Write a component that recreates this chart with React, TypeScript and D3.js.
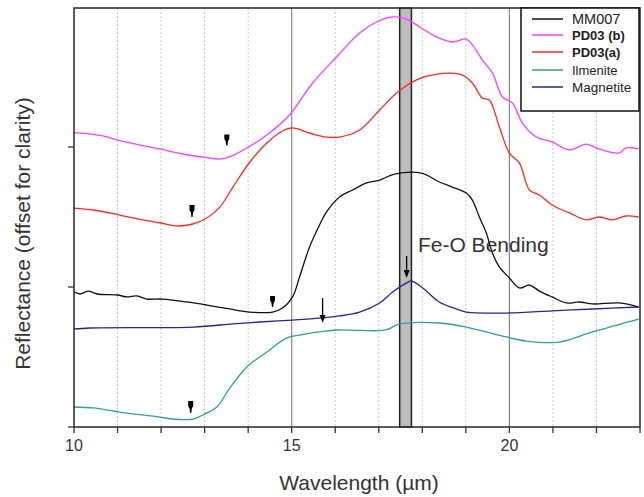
import * as d3 from 'd3';

// wavelength (µm) and offset reflectance (arbitrary units)
const mm007Wl = [10.0, 10.14, 10.32, 10.53, 10.99, 11.22, 11.44, 11.67, 12.04, 12.59, 13.05, 13.58, 14.04, 14.56, 14.79, 15.02, 15.18, 15.41, 15.64, 15.8, 16.1, 16.4, 16.72, 17.02, 17.36, 17.98, 18.39, 18.69, 19.01, 19.15, 19.31, 19.47, 19.61, 19.77, 20.0, 20.23, 20.46, 20.69, 20.98, 21.31, 21.61, 21.91, 22.52, 22.97];
const mm007R = [0.966, 0.95, 0.971, 0.95, 0.943, 0.929, 0.936, 0.914, 0.914, 0.893, 0.871, 0.843, 0.821, 0.821, 0.85, 0.929, 1.071, 1.286, 1.443, 1.536, 1.643, 1.693, 1.743, 1.764, 1.807, 1.814, 1.75, 1.714, 1.671, 1.621, 1.5, 1.386, 1.243, 1.143, 1.064, 0.993, 1.014, 0.971, 0.929, 0.886, 0.893, 0.879, 0.886, 0.857];

const pd03bWl = [10.0, 10.66, 11.05, 11.51, 11.97, 12.5, 13.05, 13.35, 13.58, 13.97, 14.43, 14.95, 15.48, 16.03, 16.56, 16.95, 17.32, 17.64, 17.94, 18.33, 18.69, 19.01, 19.15, 19.38, 19.61, 19.84, 20.07, 20.3, 20.62, 20.98, 21.38, 21.77, 22.06, 22.52, 22.68, 22.97];
const pd03bR = [2.102, 2.079, 2.045, 2.014, 1.986, 1.95, 1.924, 1.914, 1.931, 1.993, 2.086, 2.229, 2.457, 2.643, 2.814, 2.893, 2.929, 2.914, 2.857, 2.786, 2.75, 2.771, 2.729, 2.621, 2.529, 2.357, 2.314, 2.171, 2.071, 2.036, 1.979, 2.021, 1.986, 1.957, 1.993, 1.986];

const pd03aWl = [10.0, 10.44, 11.05, 11.58, 11.97, 12.36, 12.73, 13.05, 13.35, 13.65, 14.04, 14.43, 14.79, 15.02, 15.41, 15.8, 16.1, 16.56, 17.02, 17.41, 17.87, 18.33, 18.92, 19.15, 19.38, 19.54, 19.77, 20.0, 20.23, 20.46, 20.69, 20.98, 21.38, 21.77, 22.06, 22.36, 22.68, 22.97];
const pd03aR = [1.564, 1.55, 1.514, 1.479, 1.459, 1.436, 1.45, 1.493, 1.571, 1.714, 1.893, 2.029, 2.114, 2.136, 2.1, 2.071, 2.071, 2.121, 2.264, 2.386, 2.479, 2.521, 2.514, 2.457, 2.35, 2.336, 2.143, 1.957, 1.886, 1.693, 1.657, 1.586, 1.529, 1.479, 1.5, 1.479, 1.507, 1.5];

const ilmeniteWl = [10.0, 10.44, 11.05, 11.97, 12.27, 12.73, 12.96, 13.28, 13.58, 13.97, 14.43, 14.89, 15.18, 15.64, 16.03, 16.56, 17.16, 17.48, 18.39, 19.01, 19.93, 20.39, 21.15, 21.91, 22.97];
const ilmeniteR = [0.143, 0.136, 0.107, 0.071, 0.057, 0.057, 0.086, 0.143, 0.279, 0.429, 0.536, 0.636, 0.657, 0.679, 0.693, 0.69, 0.693, 0.736, 0.743, 0.714, 0.643, 0.614, 0.607, 0.679, 0.771];

const magnetiteWl = [10.0, 10.37, 12.73, 13.65, 14.27, 15.02, 15.71, 16.1, 16.56, 17.02, 17.32, 17.64, 17.75, 18.01, 18.39, 18.78, 19.01, 19.93, 20.98, 21.91, 22.97];
const magnetiteR = [0.7, 0.707, 0.714, 0.736, 0.75, 0.764, 0.779, 0.793, 0.821, 0.886, 0.964, 1.029, 1.043, 0.993, 0.893, 0.843, 0.821, 0.814, 0.829, 0.843, 0.857];

const seriesNames = ['MM007', 'PD03 (b)', 'PD03(a)', 'Ilmenite', 'Magnetite'];
const seriesColors = ['#111111', '#ff3cff', '#ff2626', '#2f9f97', '#26268f'];
const seriesBold = [false, true, true, false, false];

// small arrow markers [wavelength, top, bottom]
const smallArrows = [[13.51, 2.09, 2.01], [12.71, 1.586, 1.5], [14.56, 0.936, 0.857], [12.68, 0.186, 0.1]];
const longArrows = [[15.71, 0.921, 0.743], [17.64, 1.221, 1.064]];

const bendBand = [17.48, 17.75];
const xMajor = [10, 15, 20];
const xMinor = [11, 12, 13, 14, 16, 17, 18, 19, 21, 22, 23];
const yTicks = [0, 1, 2];

const W = 644, H = 497;
const margin = { top: 8, right: 4, bottom: 70, left: 74 };
const font = 'Arial, "Liberation Sans", sans-serif';
const legendLineY = [19, 35, 52, 70, 87];
const legendSize = [14.5, 13, 13, 13, 13.5];

export default function App() {
  const x = d3.scaleLinear().domain([10, 23]).range([margin.left, W - margin.right]);
  const y = d3.scaleLinear().domain([0, 3]).range([H - margin.bottom, margin.top - 1]);
  const x0 = x.range()[0], x1 = x.range()[1];
  const yb = H - margin.bottom, yt = margin.top;

  const line = d3.line<[number, number]>()
    .x(d => x(d[0]))
    .y(d => y(d[1]))
    .curve(d3.curveCatmullRom.alpha(0.5));

  const series = [
    d3.zip(mm007Wl, mm007R),
    d3.zip(pd03bWl, pd03bR),
    d3.zip(pd03aWl, pd03aR),
    d3.zip(ilmeniteWl, ilmeniteR),
    d3.zip(magnetiteWl, magnetiteR),
  ] as [number, number][][];

  // draw order: back to front like the original
  const order = [3, 4, 2, 1, 0];

  return (
    <svg width={W} height={H} style={{ position: 'absolute', left: 0, top: 0, background: '#fff' }}>
      <defs>
        <clipPath id="plot">
          <rect x={x0} y={yt} width={x1 - x0} height={yb - yt} />
        </clipPath>
      </defs>

      {/* grid */}
      {xMinor.filter(t => t < 23).map(t => (
        <line key={'g' + t} x1={x(t)} x2={x(t)} y1={yt} y2={yb} stroke="#c8c8c8" strokeWidth={1} strokeDasharray="2,2" />
      ))}
      {xMajor.filter(t => t > 10).map(t => (
        <line key={'G' + t} x1={x(t)} x2={x(t)} y1={yt} y2={yb} stroke="#8a8a8a" strokeWidth={1.2} />
      ))}

      {/* Fe-O bending band */}
      <rect x={x(bendBand[0])} y={yt} width={x(bendBand[1]) - x(bendBand[0])} height={yb - yt}
        fill="#bdbdbd" stroke="#222" strokeWidth={1.5} />

      {/* spectra */}
      <g clipPath="url(#plot)">
        {order.map(i => (
          <path key={seriesNames[i]} d={line(series[i]) || ''} fill="none" stroke={seriesColors[i]} strokeWidth={1.3} />
        ))}
      </g>

      {/* arrows */}
      {smallArrows.map(([w, t, b], i) => {
        const cx = x(w), ty = y(t), by = y(b);
        const mid = ty + (by - ty) * 0.6;
        return (
          <path key={'s' + i} fill="#000"
            d={`M${cx - 2.5},${ty} L${cx + 2.5},${ty} L${cx + 2.5},${mid - 2} L${cx + 1.2},${mid} L${cx + 0.6},${by} L${cx - 0.6},${by} L${cx - 1.2},${mid} L${cx - 2.5},${mid - 2} Z`} />
        );
      })}
      {longArrows.map(([w, t, b], i) => {
        const cx = x(w), ty = y(t), by = y(b);
        return (
          <g key={'l' + i}>
            <line x1={cx} x2={cx} y1={ty} y2={by - 6} stroke="#000" strokeWidth={1.3} />
            <path d={`M${cx - 3},${by - 8} L${cx + 3},${by - 8} L${cx},${by} Z`} fill="#000" />
          </g>
        );
      })}

      <text x={x(17.9)} y={y(1.25)} fontFamily={font} fontSize={21} fill="#333">Fe-O Bending</text>

      {/* frame */}
      <rect x={x0} y={yt} width={x1 - x0} height={yb - yt} fill="none" stroke="#333" strokeWidth={1.6} />

      {/* x axis ticks */}
      {[...xMajor, ...xMinor].map(t => (
        <line key={'t' + t} x1={x(t)} x2={x(t)} y1={yb} y2={yb + 6} stroke="#333" strokeWidth={1.3} />
      ))}
      {xMajor.map(t => (
        <text key={'l' + t} x={x(t)} y={yb + 24} textAnchor="middle" fontFamily={font} fontSize={16} fill="#333">{t}</text>
      ))}
      {yTicks.map(t => (
        <line key={'y' + t} x1={x0 - 6} x2={x0} y1={y(t)} y2={y(t)} stroke="#333" strokeWidth={1.3} />
      ))}

      <text x={(x0 + x1) / 2 + 2} y={H - 7} textAnchor="middle" fontFamily={font} fontSize={21} fill="#333">Wavelength (µm)</text>
      <text transform={`translate(30,${(yt + yb) / 2 + 16}) rotate(-90)`} textAnchor="middle" fontFamily={font} fontSize={21} fill="#333">
        Reflectance (offset for clarity)
      </text>

      {/* legend */}
      <g>
        <rect x={521} y={yt} width={x1 - 521 - 1} height={103} fill="#fff" stroke="#111" strokeWidth={1.5} />
        {seriesNames.map((name, i) => {
          const ly = legendLineY[i];
          return (
            <g key={'lg' + name}>
              <line x1={532} x2={563} y1={ly} y2={ly} stroke={seriesColors[i]} strokeWidth={1.5} />
              <text x={572} y={ly + 5} fontFamily={font} fontSize={legendSize[i]} fontWeight={seriesBold[i] ? 'bold' : 'normal'} fill="#222">{name}</text>
            </g>
          );
        })}
      </g>
    </svg>
  );
}
